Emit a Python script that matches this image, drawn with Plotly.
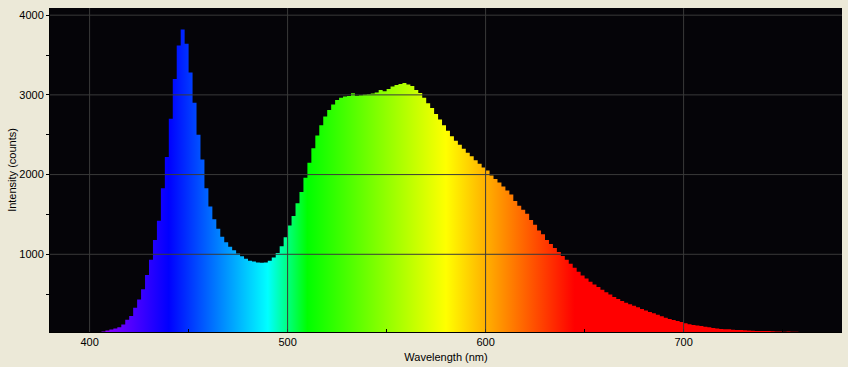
import plotly.graph_objects as go

# ---- data ----
wavelength = list(range(380, 782, 2))
intensity = [
    20, 20, 20, 20, 20, 20, 20, 20, 20, 20,          # 380-398
    22, 22, 24, 32, 44, 56, 68, 86, 118, 180,        # 400-418
    225, 330, 432, 560, 740, 930, 1180, 1420, 1830, 2220,   # 420-438
    2700, 3200, 3620, 3820, 3640, 3280, 2900, 2500, 2190, 1830,  # 440-458
    1600, 1440, 1320, 1220, 1150, 1095, 1050, 1010, 975, 945,   # 460-478
    920, 908, 898, 893, 898, 920, 960, 1015, 1100, 1215,        # 480-498
    1360, 1480, 1640, 1780, 1960, 2150, 2330, 2490, 2620, 2730, # 500-518
    2810, 2880, 2935, 2965, 2980, 2985, 3020, 2990, 2995, 3005, # 520-538
    3010, 3018, 3030, 3060, 3045, 3075, 3105, 3125, 3135, 3150, # 540-558
    3130, 3110, 3060, 3025, 2965, 2895, 2835, 2760, 2690, 2620, # 560-578
    2550, 2480, 2425, 2375, 2325, 2275, 2230, 2180, 2135, 2090, # 580-598
    2050, 1990, 1945, 1900, 1850, 1800, 1750, 1670, 1610, 1560, # 600-618
    1510, 1430, 1370, 1300, 1250, 1180, 1130, 1080, 1030, 980,  # 620-638
    930, 880, 830, 780, 735, 695, 655, 620, 590, 555,           # 640-658
    525, 495, 465, 440, 415, 392, 372, 353, 335, 315,           # 660-678
    295, 277, 260, 240, 222, 203, 188, 176, 163, 150,           # 680-698
    135, 122, 113, 108, 100, 92, 86, 75, 70, 62,                # 700-718
    58, 58, 54, 50, 50, 48, 44, 40, 38, 38,                     # 720-738
    36, 36, 34, 30, 30, 28, 30, 27, 28, 24,                     # 740-758
    24, 22, 22, 22, 22, 22, 22, 22, 22, 22,                     # 760-778
    22,                                                         # 780
]

x_ticks = [400, 500, 600, 700]
y_ticks = [1000, 2000, 3000, 4000]
x_range = [380, 780]
y_range = [25, 4090]

# spectral colour stops (nm, rgb)
spectrum_stops = [
    (380, "rgb(255,0,255)"),
    (440, "rgb(0,0,255)"),
    (490, "rgb(0,255,255)"),
    (510, "rgb(0,255,0)"),
    (580, "rgb(255,255,0)"),
    (645, "rgb(255,0,0)"),
    (780, "rgb(255,0,0)"),
]
colorscale = [[(w - x_range[0]) / (x_range[1] - x_range[0]), c] for w, c in spectrum_stops]

GRID = "#3a3a3a"
FONT = "Liberation Sans"

fig = go.Figure()
fig.add_trace(go.Scatter(
    x=wavelength, y=intensity,
    mode="lines", line=dict(width=0, shape="hv"),
    fill="tozeroy",
    fillgradient=dict(type="horizontal", colorscale=colorscale,
                      start=x_range[0], stop=x_range[1]),
    hoverinfo="x+y", showlegend=False,
))

shapes = []
for t in x_ticks:
    shapes.append(dict(type="line", xref="x", yref="y domain", x0=t, x1=t, y0=0, y1=1,
                       line=dict(color=GRID, width=1), layer="above"))
for t in y_ticks:
    shapes.append(dict(type="line", xref="x domain", yref="y", x0=0, x1=1, y0=t, y1=t,
                       line=dict(color=GRID, width=1), layer="above"))

fig.update_layout(
    width=848, height=367,
    margin=dict(l=50, r=6, t=8, b=35, autoexpand=False),
    paper_bgcolor="#ECE9D8",
    plot_bgcolor="#050408",
    font=dict(family=FONT, size=11, color="black"),
    shapes=shapes,
)
fig.update_xaxes(
    range=x_range, tickvals=x_ticks, showgrid=False, zeroline=False,
    showline=True, linecolor="black", linewidth=1, layer="above traces",
    ticks="",
    minor=dict(ticks="inside", ticklen=3, dtick=50, tick0=0, tickcolor="black", showgrid=False),
    title=dict(text="Wavelength (nm)", standoff=6, font=dict(size=11)),
    automargin=False,
)
fig.update_yaxes(
    range=y_range, tickvals=y_ticks, showgrid=False, zeroline=False,
    showline=True, linecolor="black", linewidth=1, layer="above traces",
    ticks="outside", ticklen=3, tickcolor="black",
    minor=dict(ticks="outside", ticklen=3, dtick=500, tick0=0, tickcolor="black", showgrid=False),
    title=dict(text="Intensity (counts)", standoff=0, font=dict(size=11)),
    automargin=False,
)

fig.write_html(
    "out.html",
    config={"displayModeBar": False},
    post_script="document.body.style.margin='0';document.body.style.padding='0';",
)
